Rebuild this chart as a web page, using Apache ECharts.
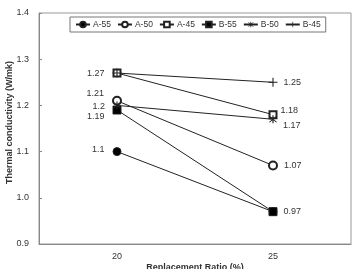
<!DOCTYPE html>
<html>
<head>
<meta charset="utf-8">
<script src="https://cdn.jsdelivr.net/npm/echarts@6/dist/echarts.min.js"></script>
<style>
  html, body { margin: 0; padding: 0; background: #fff; }
  #chart { width: 355px; height: 269px; }
</style>
</head>
<body>
<div id="chart"></div>
<script>
// categories and values
var ratios = ["20", "25"];
var seriesNames = ["A-55", "A-50", "A-45", "B-55", "B-50", "B-45"];
var a55 = [1.1, 0.97];
var a50 = [1.21, 1.07];
var a45 = [1.27, 1.18];
var b55 = [1.19, 0.97];
var b50 = [1.2, 1.17];
var b45 = [1.27, 1.25];
var yTicks = [0.9, 1.0, 1.1, 1.2, 1.3, 1.4];

(function () {
  var myChart = echarts.init(document.getElementById("chart"));
  var font = "'Liberation Sans', 'Open Sans', sans-serif";

  // thin-stroke symbols made from filled bars
  var plusPath = "path://M0,4.4H10V5.6H0Z M4.4,0H5.6V10H4.4Z";
  var starPath = "path://M4.4,0H5.6V10H4.4Z M0.8,1.6L1.6,0.8L9.2,8.4L8.4,9.2Z M8.4,0.8L9.2,1.6L1.6,9.2L0.8,8.4Z";

  // label settings per point: left at 20, right at 25 (null = hidden)
  function pts(vals, labs) {
    return vals.map(function (v, i) {
      var d = { value: v };
      var l = labs[i];
      if (l) {
        d.label = {
          show: true,
          position: i === 0 ? "left" : "right",
          distance: i === 0 ? 8 : 6,
          offset: l.off || [0, 0],
          formatter: String(v),
        };
      }
      return d;
    });
  }

  function line(name, vals, labs, symbol, size, fill, bw) {
    return {
      name: name,
      type: "line",
      data: pts(vals, labs),
      symbol: symbol,
      symbolSize: size,
      showAllSymbol: true,
      lineStyle: { color: "#222", width: 1 },
      itemStyle: { color: fill, borderColor: "#222", borderWidth: bw },
      label: { color: "#333", fontSize: 9, fontFamily: font },
      emphasis: { disabled: true },
    };
  }

  var option = {
    animation: false,
    textStyle: { fontFamily: font },
    grid: {
      left: 39,
      right: 4,
      top: 13,
      bottom: 25,
      outerBoundsMode: "none",
      containLabel: false,
      show: true,
      borderColor: "#999",
      borderWidth: 1,
    },
    legend: {
      data: seriesNames,
      left: 70,
      top: 17,
      padding: [3, 5],
      borderColor: "#777",
      borderWidth: 1,
      itemWidth: 14,
      itemHeight: 7,
      itemGap: 6,
      textStyle: { color: "#333", fontSize: 8.5, padding: [0, 0, 0, -2] },
    },
    xAxis: {
      type: "category",
      data: ratios,
      name: "Replacement Ratio (%)",
      nameLocation: "middle",
      nameGap: 19,
      nameMoveOverlap: false,
      nameTextStyle: { fontWeight: "bold", fontSize: 9, color: "#333" },
      axisLine: { lineStyle: { color: "#888" } },
      axisTick: { inside: true, length: 3, lineStyle: { color: "#888" } },
      axisLabel: { color: "#333", fontSize: 9, margin: 8 },
    },
    yAxis: {
      type: "value",
      min: 0.9,
      max: 1.4,
      interval: 0.1,
      name: "Thermal conductivity (W/mk)",
      nameLocation: "middle",
      nameGap: 25,
      nameMoveOverlap: false,
      nameTextStyle: { fontWeight: "bold", fontSize: 9, color: "#333", padding: [0, 0, 0, 12] },
      axisLine: { show: true, lineStyle: { color: "#888" } },
      axisTick: { show: true, inside: true, length: 3, lineStyle: { color: "#888" } },
      splitLine: { show: false },
      axisLabel: {
        color: "#333",
        fontSize: 9,
        margin: 10,
        formatter: function (v) { return v.toFixed(1); },
      },
    },
    series: [
      line("A-55", a55, [{ off: [0, -2] }, null], "circle", 8, "#000", 1),
      line("A-50", a50, [{ off: [0, -7] }, { off: [0, 0] }], "emptyCircle", 8, "#222", 1),
      line("A-45", a45, [{ off: [0, 0] }, { off: [-3, -4] }], "emptyRect", 7, "#222", 1),
      line("B-55", b55, [{ off: [0, 6] }, { off: [0, 0] }], "rect", 8, "#000", 1),
      line("B-50", b50, [{ off: [0, 1] }, { off: [0, 6] }], starPath, 8, "#222", 0),
      line("B-45", b45, [null, { off: [0, 0] }], plusPath, 9, "#222", 0),
    ],
  };
  myChart.setOption(option);
  window.addEventListener("resize", function () {
    myChart.resize();
  });
})();
</script>
</body>
</html>
